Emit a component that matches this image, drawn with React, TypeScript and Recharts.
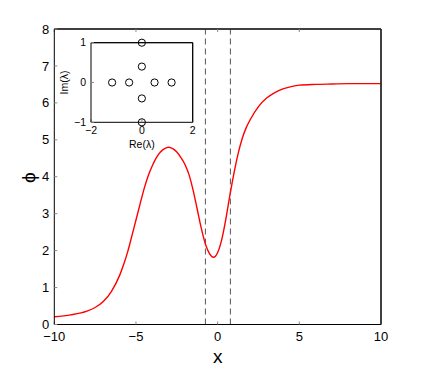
import React from 'react';
import { LineChart, Line, XAxis, YAxis, ReferenceLine, ScatterChart, Scatter, Label } from 'recharts';

const xValues = [-10, -9, -8, -7.5, -7, -6.5, -6, -5.75, -5.5, -5.25, -5, -4.75, -4.5, -4.25, -4, -3.75, -3.5, -3.25, -3, -2.75, -2.5, -2.25, -2, -1.75, -1.5, -1.25, -1, -0.75, -0.5, -0.25, 0, 0.25, 0.5, 0.75, 1, 1.25, 1.5, 1.75, 2, 2.5, 3, 3.5, 4, 4.5, 5, 6, 7, 8, 10];
const phiValues = [0.21, 0.26, 0.36, 0.46, 0.62, 0.9, 1.33, 1.63, 1.98, 2.4, 2.83, 3.26, 3.68, 4.03, 4.3, 4.52, 4.67, 4.76, 4.8, 4.76, 4.67, 4.52, 4.33, 4.05, 3.63, 3.12, 2.6, 2.18, 1.92, 1.82, 1.95, 2.3, 2.85, 3.5, 4.1, 4.62, 5.03, 5.33, 5.55, 5.9, 6.13, 6.28, 6.38, 6.44, 6.48, 6.5, 6.51, 6.52, 6.52];
const dashedX = [-0.75, 0.78];
const xTicks = [-10, -5, 0, 5, 10];
const yTicks = [0, 1, 2, 3, 4, 5, 6, 7, 8];

const reValues = [0, 0, 0, 0, -1.17, -0.5, 0.5, 1.17];
const imValues = [1, -1, 0.4, -0.4, 0, 0, 0, 0];
const insetXTicks = [-2, 0, 2];
const insetYTicks = [-1, 0, 1];

const data = xValues.map((x, i) => ({ x, phi: phiValues[i] }));
const eigen = reValues.map((re, i) => ({ re, im: imValues[i] }));

const FONT = '"Liberation Sans", Arial, Helvetica, sans-serif';
const fmt = (v: number) => String(v).replace('-', '\u2212');
const blank = () => '';

const OpenCircle = (props: any) => (
  <circle cx={props.cx} cy={props.cy} r={3.6} fill="none" stroke="#000" strokeWidth={1} />
);

export default function App() {
  const tickStyle = { fill: '#000', fontSize: 13, fontFamily: FONT };
  const insetTick = { fill: '#000', fontSize: 10.5, fontFamily: FONT };
  const axisLine = { stroke: '#000', strokeWidth: 1 };
  const tickLine = { stroke: '#888', strokeWidth: 1 };
  return (
    <div style={{ position: 'absolute', left: 0, top: 0, width: 421, height: 367, background: '#fff' }}>
      <div style={{ position: 'absolute', left: 0, top: 0 }}>
        <LineChart width={421} height={367} data={data} margin={{ top: 28, right: 39, left: 0, bottom: 0 }}>
          <XAxis xAxisId="b" dataKey="x" type="number" domain={[-10, 10]} ticks={xTicks}
            tickFormatter={fmt} tick={tickStyle} axisLine={axisLine} tickLine={tickLine} tickSize={-3} tickMargin={10} height={42.5}>
            <Label content={(p: any) => {
              const vb = p.viewBox || {};
              return <text x={vb.x + vb.width / 2} y={vb.y + 38} textAnchor="middle" fontSize={19} fontFamily={FONT} fill="#000">x</text>;
            }} />
          </XAxis>
          <XAxis xAxisId="t" dataKey="x" type="number" orientation="top" domain={[-10, 10]} ticks={xTicks}
            tickFormatter={blank} axisLine={axisLine} tickLine={tickLine} tickSize={-3} height={1} />
          <YAxis yAxisId="l" type="number" domain={[0, 8]} ticks={yTicks}
            tickFormatter={fmt} tick={tickStyle} axisLine={axisLine} tickLine={tickLine} tickSize={-3} tickMargin={8} width={54.3}>
            <Label content={(p: any) => {
              const vb = p.viewBox || {};
              const cx = 28;
              const cy = vb.y + vb.height / 2 + 1;
              return <text x={cx} y={cy} transform={`rotate(-90 ${cx} ${cy})`} textAnchor="middle" dominantBaseline="central" fontSize={19} fontFamily={FONT} fill="#000">ϕ</text>;
            }} />
          </YAxis>
          <YAxis yAxisId="r" type="number" orientation="right" domain={[0, 8]} ticks={yTicks}
            tickFormatter={blank} axisLine={axisLine} tickLine={tickLine} tickSize={-3} width={1} />
          <ReferenceLine y={8} xAxisId="b" yAxisId="l" stroke="#000" strokeWidth={1} />
          <ReferenceLine x={10} xAxisId="b" yAxisId="l" stroke="#000" strokeWidth={1} />
          {dashedX.map((v) => (
            <ReferenceLine key={v} x={v} xAxisId="b" yAxisId="l" stroke="#555" strokeWidth={1} strokeDasharray="6 4" />
          ))}
          <Line xAxisId="b" yAxisId="l" dataKey="phi" type="monotone" stroke="#ff0000" strokeWidth={1.4} dot={false} isAnimationActive={false} />
        </LineChart>
      </div>
      <div style={{ position: 'absolute', left: 50, top: 30 }}>
        <ScatterChart width={160} height={130} margin={{ top: 11.7, right: 16.3, left: 10, bottom: 0 }}>
          <XAxis xAxisId="b" dataKey="re" type="number" domain={[-2, 2]} ticks={insetXTicks}
            tickFormatter={fmt} tick={insetTick} axisLine={axisLine} tickLine={tickLine} tickSize={-3} tickMargin={7} height={37.7}>
            <Label content={(p: any) => {
              const vb = p.viewBox || {};
              return <text x={vb.x + vb.width / 2} y={vb.y + 25.5} textAnchor="middle" fontSize={10.5} fontFamily={FONT} fill="#000">Re(λ)</text>;
            }} />
          </XAxis>
          <XAxis xAxisId="t" dataKey="re" type="number" orientation="top" domain={[-2, 2]} ticks={insetXTicks}
            tickFormatter={blank} axisLine={axisLine} tickLine={tickLine} tickSize={-3} height={1} />
          <YAxis yAxisId="l" dataKey="im" type="number" domain={[-1, 1]} ticks={insetYTicks}
            tickFormatter={fmt} tick={insetTick} axisLine={axisLine} tickLine={tickLine} tickSize={-3} tickMargin={8} width={31}>
            <Label content={(p: any) => {
              const vb = p.viewBox || {};
              const cx = 14;
              const cy = vb.y + vb.height / 2;
              return <text x={cx} y={cy} transform={`rotate(-90 ${cx} ${cy})`} textAnchor="middle" dominantBaseline="central" fontSize={10.5} fontFamily={FONT} fill="#000">Im(λ)</text>;
            }} />
          </YAxis>
          <YAxis yAxisId="r" dataKey="im" type="number" orientation="right" domain={[-1, 1]} ticks={insetYTicks}
            tickFormatter={blank} axisLine={axisLine} tickLine={tickLine} tickSize={-3} width={1} />
          <ReferenceLine y={1} xAxisId="b" yAxisId="l" stroke="#000" strokeWidth={1} />
          <ReferenceLine x={2} xAxisId="b" yAxisId="l" stroke="#000" strokeWidth={1} />
          <Scatter xAxisId="b" yAxisId="l" data={eigen} shape={OpenCircle} isAnimationActive={false} />
        </ScatterChart>
      </div>
    </div>
  );
}
